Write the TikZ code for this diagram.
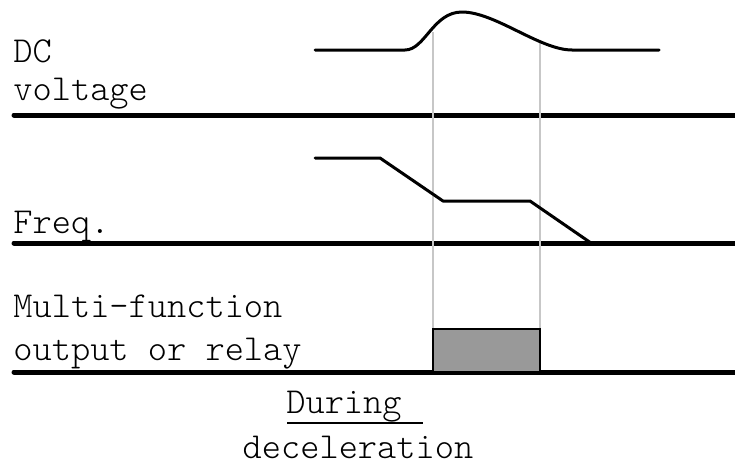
\documentclass[tikz,border=0pt]{standalone}
\usepackage{fontspec}
\setmonofont{Latin Modern Mono Light}
\tikzset{
    axisline/.style={line width=2.5pt, line cap=round},
    sigline/.style={line width=1.5pt, line cap=round, line join=round},
    guideline/.style={line width=1.4pt, draw=black!22},
    lbl/.style={inner sep=0pt, anchor=base west, font=\ttfamily\fontsize{18.3}{22}\selectfont}
}
\begin{document}
\begin{tikzpicture}[x=0.5pt, y=-0.5pt]
    \useasboundingbox (0,0) rectangle (735,466);

    % Labels on the left
    \node[lbl] (dc) at (13,62) {DC};
    \node[lbl] (volt) at (13,100) {voltage};
    \node[lbl] (freq) at (13,233) {Freq.};
    \node[lbl] (multi) at (13,317) {Multi-function};
    \node[lbl] (relay) at (13,360) {output or relay};

    % Time axes of the three traces
    \foreach \y/\name in {115/ax1, 243/ax2, 372/ax3} {
        \coordinate (\name L) at (14,\y);
        \coordinate (\name R) at (735,\y);
        \draw[axisline] (\name L) -- (\name R);
    }

    % Guide lines at start and end of the relay pulse
    \coordinate (gA) at (433,32);
    \coordinate (gB) at (540,42);
    \draw[guideline] (gA) -- (433,329);
    \draw[guideline] (gB) -- (540,329);

    % DC voltage trace
    \draw[sigline] (315,50) -- (405,50)
        .. controls (425,50) and (433,12) .. (462,12)
        .. controls (495,12) and (540,50) .. (572,50) -- (659,50);

    % Frequency trace
    \draw[sigline] (315,158) -- (380,158) -- (443,201) -- (530,201) -- (591,243);

    % Relay output pulse
    \draw[line width=1.2pt, fill=black!40] (433,372) rectangle (540,329);

    % Caption below
    \node[lbl, anchor=base] (during) at (344,413) {During};
    \node[lbl, anchor=base] (decel) at (358,458) {deceleration};
    \coordinate (ulA) at (287,423);
    \coordinate (ulB) at (423,423);
    \draw[line width=1pt] (ulA) -- (ulB);
\end{tikzpicture}
\end{document}
